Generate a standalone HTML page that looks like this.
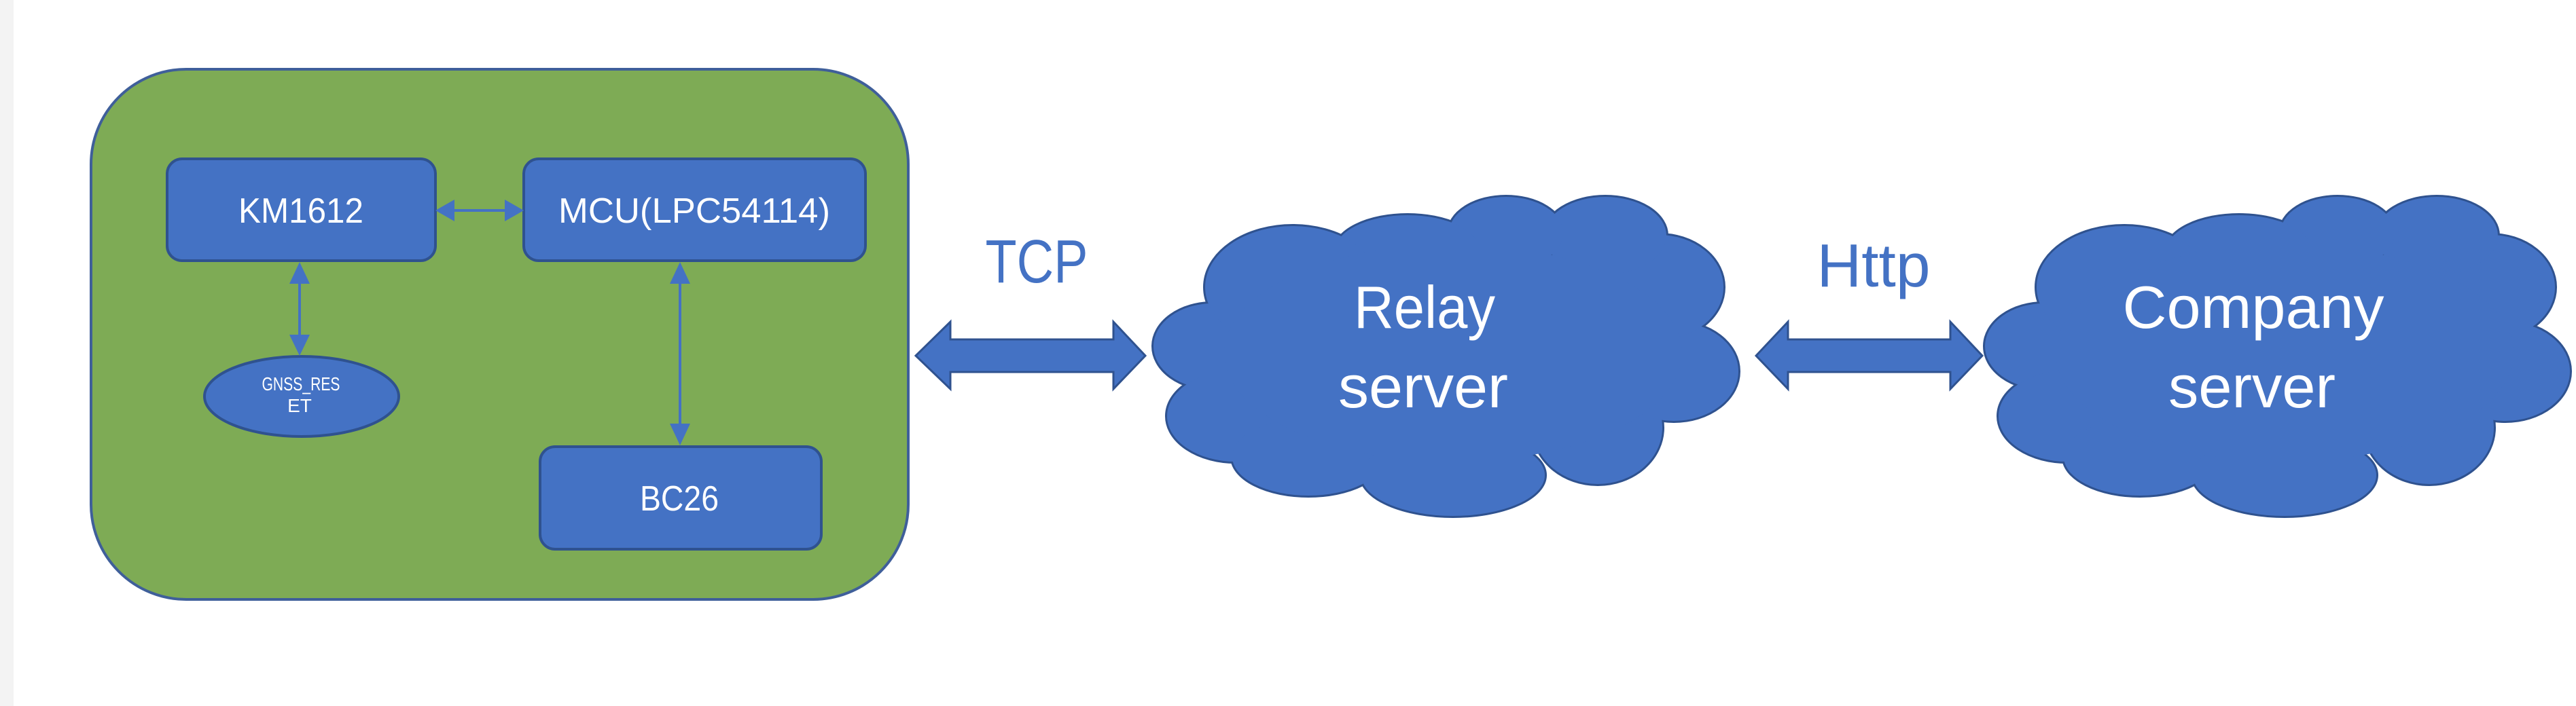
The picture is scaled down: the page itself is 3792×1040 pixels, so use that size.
<!DOCTYPE html>
<html><head><meta charset="utf-8"><style>
html,body{margin:0;padding:0;background:#fff;}
svg{display:block}
text{font-family:"Liberation Sans Narrow","Liberation Sans",sans-serif;}
</style></head><body>
<svg width="3792" height="1040" viewBox="0 0 3792 1040" xmlns="http://www.w3.org/2000/svg">
<rect x="0" y="0" width="3792" height="1040" fill="#ffffff"/>
<rect x="0" y="0" width="20" height="1040" fill="#f3f3f3"/>
<rect x="134" y="102" width="1203" height="781" rx="140" ry="140" fill="#7eab55" stroke="#3f5f9a" stroke-width="4"/>
<g fill="#4472c4" stroke="#2f528f" stroke-width="4">
<rect x="246" y="234" width="395" height="150" rx="22"/>
<rect x="771" y="234" width="503" height="150" rx="22"/>
<rect x="795" y="658" width="414" height="151" rx="22"/>
<ellipse cx="444" cy="584" rx="143" ry="59"/>
</g>
<g fill="#ffffff" text-anchor="middle">
<text x="443" y="328" font-size="52" textLength="184" lengthAdjust="spacingAndGlyphs">KM1612</text>
<text x="1022" y="328" font-size="52" textLength="400" lengthAdjust="spacingAndGlyphs">MCU(LPC54114)</text>
<text x="1000" y="752" font-size="52" textLength="116" lengthAdjust="spacingAndGlyphs">BC26</text>
<text x="443" y="575" font-size="28" textLength="115" lengthAdjust="spacingAndGlyphs">GNSS_RES</text>
<text x="441" y="607" font-size="28">ET</text>
</g>
<g stroke="#4472c4" stroke-width="4" fill="#4472c4">
<line x1="660" y1="310" x2="752" y2="310"/>
<polygon points="641,310 669,294 669,326" stroke="none"/>
<polygon points="771,310 743,294 743,326" stroke="none"/>
<line x1="441" y1="400" x2="441" y2="510"/>
<polygon points="441,386 426,418 456,418" stroke="none"/>
<polygon points="441,524 426,493 456,493" stroke="none"/>
<line x1="1001" y1="400" x2="1001" y2="640"/>
<polygon points="1001,386 986,418 1016,418" stroke="none"/>
<polygon points="1001,656 986,624 1016,624" stroke="none"/>
</g>
<g fill="#4472c4" stroke="#2f528f" stroke-width="3">
<polygon points="1348,524 1399,474 1399,500 1639,500 1639,474 1686,524 1639,573 1639,548 1399,548 1399,573"/>
<polygon points="2585,524 2632,474 2632,500 2871,500 2871,474 2918,524 2871,573 2871,548 2632,548 2632,573"/>
</g>
<g fill="#4472c4" text-anchor="middle">
<text x="1526" y="416" font-size="90" textLength="151" lengthAdjust="spacingAndGlyphs">TCP</text>
<text x="2758" y="422" font-size="90" textLength="167" lengthAdjust="spacingAndGlyphs">Http</text>
</g>
<defs>
<g id="puffs">
<ellipse cx="1785" cy="510" rx="87" ry="63"/>
<ellipse cx="1819" cy="613" rx="101" ry="67"/>
<ellipse cx="1926" cy="673" rx="112" ry="57"/>
<ellipse cx="2139" cy="700" rx="135" ry="60"/>
<ellipse cx="2352" cy="630" rx="95" ry="83"/>
<ellipse cx="2464" cy="547" rx="95" ry="73"/>
<ellipse cx="2442" cy="423" rx="95" ry="77"/>
<ellipse cx="2363" cy="347" rx="90" ry="57"/>
<ellipse cx="2217" cy="343" rx="84" ry="53"/>
<ellipse cx="2072" cy="370" rx="107" ry="53"/>
<ellipse cx="1903" cy="423" rx="129" ry="90"/>
</g>
</defs>
<g>
<use href="#puffs" fill="#4472c4" stroke="#2f528f" stroke-width="6"/>
<use href="#puffs" fill="#4472c4"/>
<ellipse cx="2139" cy="520" rx="337" ry="160" fill="#4472c4"/>
</g>
<g transform="translate(1224,0)">
<use href="#puffs" fill="#4472c4" stroke="#2f528f" stroke-width="6"/>
<use href="#puffs" fill="#4472c4"/>
<ellipse cx="2139" cy="520" rx="337" ry="160" fill="#4472c4"/>
</g>
<g fill="#ffffff" text-anchor="middle">
<text x="2097" y="483" font-size="88" textLength="208" lengthAdjust="spacingAndGlyphs">Relay</text>
<text x="2095" y="600" font-size="88" textLength="250" lengthAdjust="spacingAndGlyphs">server</text>
<text x="3317" y="483" font-size="88" textLength="385" lengthAdjust="spacingAndGlyphs">Company</text>
<text x="3315" y="600" font-size="88" textLength="246" lengthAdjust="spacingAndGlyphs">server</text>
</g>
</svg>
</body></html>
